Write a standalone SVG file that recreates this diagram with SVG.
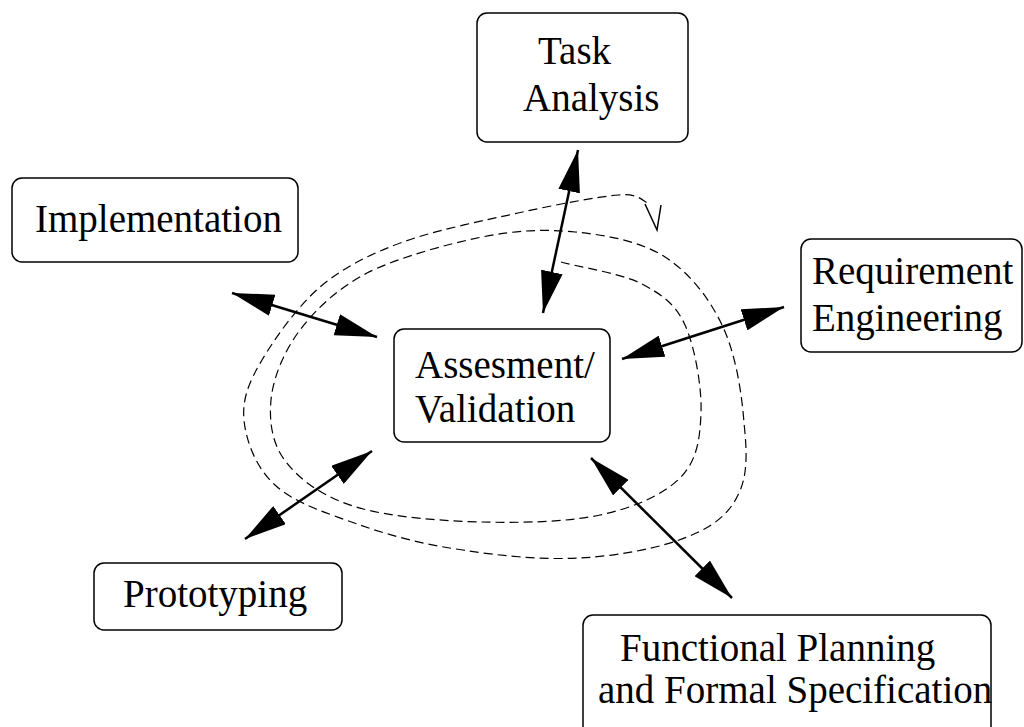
<svg xmlns="http://www.w3.org/2000/svg" width="1024" height="727" viewBox="0 0 1024 727">
<style>
.box{fill:#fff;stroke:#000;stroke-width:1.5}
.t{font-family:"Liberation Serif","Times New Roman",serif;font-size:39px;fill:#000}
.arr{stroke:#000;stroke-width:2.5;fill:none;marker-start:url(#ah);marker-end:url(#ah)}
.dash{stroke:#000;stroke-width:1.2;fill:none;stroke-dasharray:9 5}
</style>
<defs>
<marker id="ah" viewBox="0 0 42 22" refX="42" refY="11" markerWidth="42" markerHeight="22" markerUnits="userSpaceOnUse" orient="auto-start-reverse">
<path d="M0,0 L42,11 L0,22 z" fill="#000"/>
</marker>
</defs>
<rect width="1024" height="727" fill="#fff"/>
<g id="connectors">
<path class="dash" d="M561,262 C574,266 619,273 640,283 C661,294 675,303 685,325 C695,347 702,388 701,413 C700,439 697,461 680,478 C663,495 633,508 600,515 C567,522 523,523 482,522 C441,521 389,517 356,507 C323,497 300,480 286,462 C272,444 269,422 271,400 C273,378 284,351 300,330 C316,309 337,289 367,273 C397,258 447,244 482,237 C517,230 545,229 575,232 C606,235 640,241 665,257 C690,273 710,299 723,327 C736,355 742,395 744,423 C747,451 748,476 738,495 C729,514 713,527 687,537 C661,548 617,556 580,558 C543,560 500,556 463,550 C426,545 391,536 360,525 C329,514 294,503 275,485 C256,468 246,441 244,420 C242,399 249,382 262,360 C275,338 297,307 320,287 C344,267 370,254 403,242 C436,230 482,221 518,213 C554,205 596,197 618,195 C640,193 643,202 648,203"/>
<polyline points="645,204 657,230 661,205" fill="none" stroke="#000" stroke-width="1.5"/>
<line class="arr" x1="578" y1="150" x2="543" y2="313"/>
<line class="arr" x1="232" y1="293" x2="377" y2="337"/>
<line class="arr" x1="622" y1="359" x2="784" y2="307"/>
<line class="arr" x1="372" y1="451" x2="245" y2="539"/>
<line class="arr" x1="591" y1="458" x2="732" y2="598"/>
</g>
<g id="task">
<rect class="box" x="477" y="13" width="211" height="129" rx="10"/>
<text class="t" x="538" y="64">Task</text>
<text class="t" x="523" y="111">Analysis</text>
</g>
<g id="implementation">
<rect class="box" x="12" y="178" width="286" height="84" rx="10"/>
<text class="t" x="35" y="232">Implementation</text>
</g>
<g id="requirement">
<rect class="box" x="801" y="239" width="221" height="113" rx="10"/>
<text class="t" x="812" y="284">Requirement</text>
<text class="t" x="812" y="331">Engineering</text>
</g>
<g id="assesment">
<rect class="box" x="394" y="329" width="216" height="113" rx="10"/>
<text class="t" x="415" y="378">Assesment/</text>
<text class="t" x="415" y="422">Validation</text>
</g>
<g id="prototyping">
<rect class="box" x="94" y="563" width="248" height="67" rx="10"/>
<text class="t" x="123" y="607">Prototyping</text>
</g>
<g id="functional">
<rect class="box" x="583" y="615" width="408" height="130" rx="10"/>
<text class="t" x="620" y="661">Functional Planning</text>
<text class="t" x="598" y="703">and Formal Specification</text>
</g>
</svg>
